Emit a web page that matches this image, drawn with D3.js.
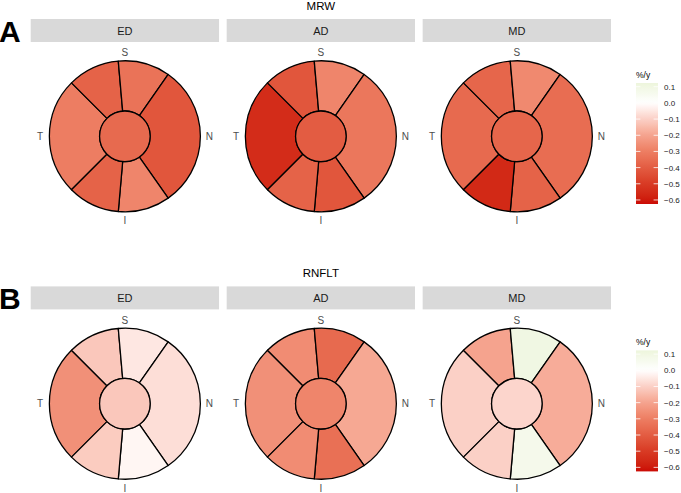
<!DOCTYPE html>
<html>
<head>
<meta charset="utf-8">
<script src="https://cdn.jsdelivr.net/npm/d3@7"></script>
<style>
  body { margin: 0; background: #fff; }
  text { font-family: "Liberation Sans", Arial, sans-serif; }
</style>
</head>
<body>
<script>
// rates of change (%/y) per sector, order: T, TS, NS, N, NI, TI, G (centre)
var groups = ["ED", "AD", "MD"];
var sectors = ["T", "TS", "NS", "N", "NI", "TI"];

var mrwED = [-0.30, -0.38, -0.33, -0.42, -0.28, -0.38, -0.36];
var mrwAD = [-0.55, -0.42, -0.28, -0.32, -0.42, -0.38, -0.40];
var mrwMD = [-0.36, -0.37, -0.27, -0.35, -0.38, -0.56, -0.37];

var rnfED = [-0.25, -0.12, -0.05, -0.07, -0.02, -0.11, -0.12];
var rnfAD = [-0.25, -0.26, -0.36, -0.19, -0.34, -0.26, -0.28];
var rnfMD = [-0.10, -0.20, 0.10, -0.18, 0.07, -0.10, -0.09];

// Garway-Heath sector bounds in degrees (d3 convention: 0 = up, clockwise)
var sectorBounds = [[225, 315], [315, 355], [-5, 35], [35, 145], [145, 185], [185, 225]];

var legendTicks = [0.1, 0.0, -0.1, -0.2, -0.3, -0.4, -0.5, -0.6];
var limits = [-0.625, 0.123];

// colour stops
var colorStops = [-0.625, -0.5, -0.4, -0.3, -0.2, -0.1, 0, 0.123];
var colorRange = ["#cb0a05", "#d83a24", "#e35c42", "#ed7d62", "#f5a38e", "#fbd0c6", "#ffffff", "#edf5dc"];

var rows = [
  {letter: "A", title: "MRW", data: [mrwED, mrwAD, mrwMD]},
  {letter: "B", title: "RNFLT", data: [rnfED, rnfAD, rnfMD]}
];

var width = 681, height = 493;

var svg = d3.select("body").append("svg")
    .attr("width", width)
    .attr("height", height);

var color = d3.scaleLinear()
    .domain(colorStops)
    .range(colorRange)
    .interpolate(d3.interpolateLab);

var x = d3.scaleBand()
    .domain(groups)
    .range([30.7, 611])
    .paddingInner(0.039);

var rOuter = 75.5, rInner = 25.3;
var rowOffset = 267.4;

var arc = d3.arc();
var rad = Math.PI / 180;

rows.forEach(function(row, ri) {
  var g = svg.append("g")
      .attr("transform", "translate(0," + (ri * rowOffset) + ")");

  // big panel letter
  g.append("text")
      .attr("x", -1)
      .attr("y", 41.5)
      .style("font-size", "30px")
      .style("font-weight", "bold")
      .text(row.letter);

  // title
  g.append("text")
      .attr("x", (x.range()[0] + x.range()[1]) / 2)
      .attr("y", 10)
      .attr("text-anchor", "middle")
      .style("font-size", "11.5px")
      .text(row.title);

  groups.forEach(function(grp, gi) {
    var cx = x(grp) + x.bandwidth() / 2,
        cy = 136.3;
    var vals = row.data[gi];

    // strip
    g.append("rect")
        .attr("x", x(grp))
        .attr("y", 19)
        .attr("width", x.bandwidth())
        .attr("height", 23)
        .attr("fill", "#d9d9d9");
    g.append("text")
        .attr("x", cx)
        .attr("y", 34.8)
        .attr("text-anchor", "middle")
        .attr("fill", "#1a1a1a")
        .style("font-size", "11px")
        .text(grp);

    var p = g.append("g").attr("transform", "translate(" + cx + "," + cy + ")");

    p.selectAll("path.sector")
        .data(sectorBounds)
      .enter().append("path")
        .attr("class", "sector")
        .attr("d", function(b) {
          return arc({innerRadius: rInner, outerRadius: rOuter,
                      startAngle: b[0] * rad, endAngle: b[1] * rad});
        })
        .attr("fill", function(b, i) { return color(vals[i]); })
        .attr("stroke", "#000")
        .attr("stroke-width", 1.3)
        .attr("stroke-linejoin", "round");

    p.append("circle")
        .attr("r", rInner)
        .attr("fill", color(vals[6]))
        .attr("stroke", "#000")
        .attr("stroke-width", 1.3);

    // direction labels (baseline offsets)
    var dirs = [
      {t: "S", dx: 0, dy: -80},
      {t: "I", dx: 0, dy: 88},
      {t: "T", dx: -84.7, dy: 3.5},
      {t: "N", dx: 84.5, dy: 3.5}
    ];
    p.selectAll("text.dir")
        .data(dirs)
      .enter().append("text")
        .attr("class", "dir")
        .attr("x", function(d) { return d.dx; })
        .attr("y", function(d) { return d.dy; })
        .attr("text-anchor", "middle")
        .attr("fill", "#4d4d4d")
        .style("font-size", "10px")
        .text(function(d) { return d.t; });
  });

  // legend
  var lg = g.append("g").attr("transform", "translate(636,0)");
  var barTop = 83, barBottom = 204, barW = 22;
  var y = d3.scaleLinear().domain(limits).range([barBottom, barTop]);

  lg.append("text")
      .attr("x", 0)
      .attr("y", 78)
      .style("font-size", "8.5px")
      .text("%/y");

  var gradId = "grad" + ri;
  var grad = svg.append("defs").append("linearGradient")
      .attr("id", gradId)
      .attr("x1", 0).attr("y1", 1).attr("x2", 0).attr("y2", 0);
  d3.range(0, 1.0001, 0.025).forEach(function(t) {
    var v = limits[0] + t * (limits[1] - limits[0]);
    grad.append("stop")
        .attr("offset", t)
        .attr("stop-color", color(v));
  });

  lg.append("rect")
      .attr("x", 0)
      .attr("y", barTop)
      .attr("width", barW)
      .attr("height", barBottom - barTop)
      .attr("fill", "url(#" + gradId + ")");

  lg.selectAll("line.tl")
      .data(legendTicks)
    .enter().append("line")
      .attr("x1", 0).attr("x2", 4.4)
      .attr("y1", function(d) { return y(d); })
      .attr("y2", function(d) { return y(d); })
      .attr("stroke", "#fff").attr("stroke-width", 0.8);
  lg.selectAll("line.tr")
      .data(legendTicks)
    .enter().append("line")
      .attr("x1", barW - 4.4).attr("x2", barW)
      .attr("y1", function(d) { return y(d); })
      .attr("y2", function(d) { return y(d); })
      .attr("stroke", "#fff").attr("stroke-width", 0.8);

  lg.selectAll("text.tick")
      .data(legendTicks)
    .enter().append("text")
      .attr("class", "tick")
      .attr("x", 28)
      .attr("y", function(d) { return y(d) + 2.9; })
      .attr("fill", "#1a1a1a")
      .style("font-size", "8px")
      .text(function(d) { return d3.format(".1f")(d).replace("-", "\u2212"); });
});
</script>
</body>
</html>
